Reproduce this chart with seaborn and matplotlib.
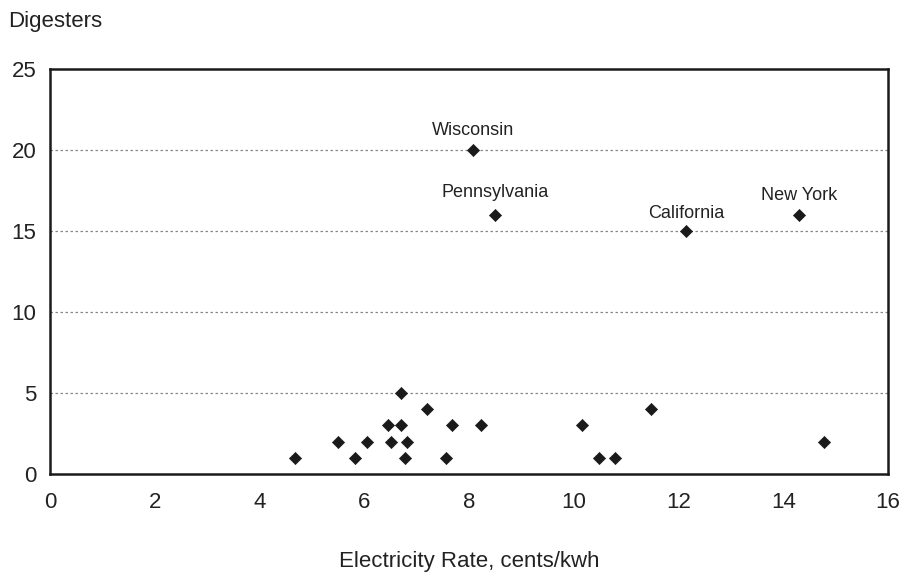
import numpy as np
import seaborn as sns
import matplotlib.pyplot as plt
import pandas as pd

# Dados: tarifa de eletricidade vs número de digestores
tarifa = [4.67, 5.49, 5.83, 6.05, 6.45, 6.51, 6.71, 6.71, 6.77, 6.81, 7.19, 7.56,
          7.68, 8.23, 8.08, 8.50, 10.16, 10.49, 10.78, 11.47, 12.14, 14.31, 14.77]
digestores = [1, 2, 1, 2, 3, 2, 5, 3, 1, 2, 4, 1,
              3, 3, 20, 16, 3, 1, 1, 4, 15, 16, 2]
estados = ['', '', '', '', '', '', '', '', '', '', '', '',
           '', '', 'Wisconsin', 'Pennsylvania', '', '', '', '', 'California', 'New York', '']
x_ticks = [0, 2, 4, 6, 8, 10, 12, 14, 16]
y_ticks = [0, 5, 10, 15, 20, 25]

dados = pd.DataFrame({'tarifa': tarifa, 'digestores': digestores, 'estado': estados})

sns.set_style("white")
plt.rcParams['font.family'] = ['Liberation Sans', 'DejaVu Sans']

fig = plt.figure(figsize=(9.03, 5.73), dpi=100)
ax = fig.add_axes([0.0554, 0.1728, 0.9280, 0.7068])

sns.scatterplot(data=dados, x='tarifa', y='digestores', marker='D', s=38,
                color='#1a1a1a', edgecolor='#1a1a1a', linewidth=0.5, ax=ax, zorder=3)

# Rótulos dos estados acima dos pontos
deslocamentos = {'Wisconsin': 19, 'Pennsylvania': 22, 'California': 17, 'New York': 19}
for _, linha in dados[dados['estado'] != ''].iterrows():
    ax.annotate(linha['estado'], (linha['tarifa'], linha['digestores']),
                xytext=(0, deslocamentos[linha['estado']]), textcoords='offset pixels',
                ha='center', va='center', fontsize=13, color='#222222')

ax.set_xlim(0, 16)
ax.set_ylim(0, 25)
ax.set_xticks(x_ticks)
ax.set_yticks(y_ticks)
for y in [5, 10, 15, 20]:
    ax.axhline(y, color='#888888', linestyle=(0, (2, 2)), linewidth=0.9, zorder=1)

for lado in ['left', 'right', 'top', 'bottom']:
    ax.spines[lado].set_color('#1a1a1a')
    ax.spines[lado].set_linewidth(1.8)

ax.tick_params(axis='both', direction='out', length=7, width=1, color='#888888',
               labelsize=16, labelcolor='#222222', pad=3)
ax.tick_params(axis='x', pad=6)

ax.set_xlabel('Electricity Rate, cents/kwh', fontsize=16, color='#222222', va='center')
ax.xaxis.set_label_coords(0.5, -0.217)
ax.set_ylabel('')
fig.text(0.009, 0.962, 'Digesters', fontsize=16, color='#222222', ha='left', va='center')

plt.savefig('out.png', dpi=100)
